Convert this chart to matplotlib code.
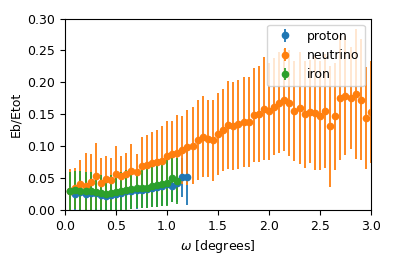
import numpy as np
import matplotlib
matplotlib.use("Agg")
import matplotlib.pyplot as plt

# angle bins (degrees)
omega_nu = np.round(np.arange(1, 61) * 0.05, 2)
omega_p = omega_nu[:24]
omega_fe = omega_nu[:22]

# neutrino
eb_nu = [0.030, 0.034, 0.040, 0.037, 0.044, 0.054, 0.043, 0.048, 0.047, 0.056,
         0.054, 0.056, 0.061, 0.060, 0.069, 0.070, 0.073, 0.076, 0.077, 0.085,
         0.088, 0.089, 0.094, 0.098, 0.101, 0.110, 0.115, 0.112, 0.109, 0.119,
         0.125, 0.133, 0.131, 0.134, 0.138, 0.138, 0.149, 0.150, 0.159, 0.155,
         0.162, 0.168, 0.172, 0.167, 0.155, 0.160, 0.150, 0.154, 0.152, 0.148,
         0.155, 0.131, 0.147, 0.176, 0.179, 0.175, 0.182, 0.173, 0.144, 0.153]
err_nu = [0.034, 0.032, 0.038, 0.053, 0.044, 0.051, 0.038, 0.037, 0.034, 0.044,
          0.030, 0.034, 0.043, 0.027, 0.045, 0.048, 0.050, 0.049, 0.054, 0.055,
          0.051, 0.060, 0.053, 0.059, 0.060, 0.063, 0.063, 0.061, 0.063, 0.064,
          0.064, 0.069, 0.069, 0.070, 0.071, 0.071, 0.073, 0.075, 0.080, 0.076,
          0.076, 0.079, 0.080, 0.083, 0.078, 0.088, 0.084, 0.081, 0.089, 0.086,
          0.089, 0.095, 0.084, 0.098, 0.093, 0.080, 0.102, 0.095, 0.080, 0.080]

# proton
eb_p = [0.029, 0.025, 0.028, 0.025, 0.026, 0.026, 0.024, 0.022, 0.023, 0.025,
        0.027, 0.029, 0.030, 0.031, 0.032, 0.033, 0.034, 0.036, 0.038, 0.040,
        0.037, 0.043, 0.051, 0.051]
err_p = [0.028, 0.027, 0.028, 0.027, 0.027, 0.026, 0.026, 0.026, 0.026, 0.027,
         0.027, 0.028, 0.028, 0.029, 0.029, 0.030, 0.030, 0.031, 0.032, 0.032,
         0.024, 0.030, 0.031, 0.043]

# iron
eb_fe = [0.030, 0.031, 0.029, 0.030, 0.029, 0.028, 0.026, 0.025, 0.026, 0.028,
         0.030, 0.031, 0.033, 0.034, 0.035, 0.035, 0.037, 0.039, 0.040, 0.042,
         0.050, 0.045]
err_fe = [0.030, 0.030, 0.032, 0.030, 0.030, 0.029, 0.029, 0.029, 0.029, 0.030,
          0.030, 0.031, 0.032, 0.031, 0.032, 0.032, 0.033, 0.034, 0.034, 0.036,
          0.038, 0.036]

plt.rcParams['font.size'] = 9

fig = plt.figure(figsize=(3.95, 2.63), dpi=100)
ax = fig.add_axes([0.165, 0.2015, 0.774, 0.728])

kw = dict(fmt='o', markersize=4.5, elinewidth=1.3)
ax.errorbar(omega_p, eb_p, yerr=err_p, label='proton', **kw)
ax.errorbar(omega_nu, eb_nu, yerr=err_nu, label='neutrino', **kw)
ax.errorbar(omega_fe, eb_fe, yerr=err_fe, label='iron', **kw)

ax.set_xlim(0, 3.0)
ax.set_ylim(0, 0.30)
ax.set_xlabel(r'$\omega$ [degrees]')
ax.set_ylabel('Eb/Etot')
ax.legend(loc='upper right')

fig.savefig('out.png', dpi=100)
